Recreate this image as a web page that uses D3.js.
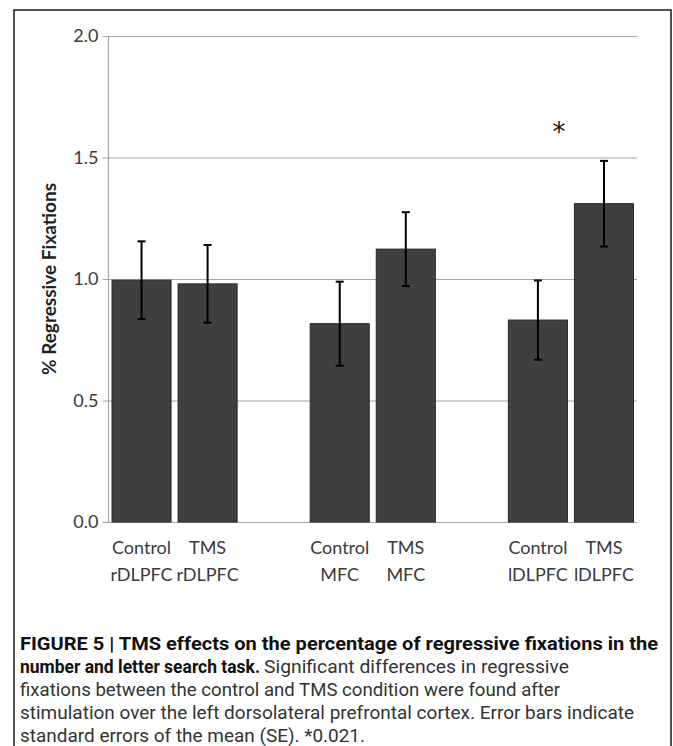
<!DOCTYPE html>
<html>
<head>
<meta charset="utf-8">
<script src="https://cdn.jsdelivr.net/npm/d3@7"></script>
<style>
  html, body { margin: 0; padding: 0; background: #fff; }
  svg { display: block; }
</style>
</head>
<body>
<script>
// Slots along the x axis; empty slots separate the three stimulation sites.
const categories = ["c_r", "t_r", "gap1", "c_m", "t_m", "gap2", "c_l", "t_l"];
const labelLine1 = ["Control", "TMS", "", "Control", "TMS", "", "Control", "TMS"];
const labelLine2 = ["rDLPFC", "rDLPFC", "", "MFC", "MFC", "", "lDLPFC", "lDLPFC"];
const barKeys = ["c_r", "t_r", "c_m", "t_m", "c_l", "t_l"];
const means = [0.995, 0.98, 0.816, 1.123, 0.831, 1.31];
const stdErrors = [0.16, 0.16, 0.173, 0.152, 0.163, 0.176];
const yTicks = [0, 0.5, 1.0, 1.5, 2.0];
const significant = ["c_l", "t_l"];

const W = 673, H = 746;
const svg = d3.select("body").append("svg").attr("width", W).attr("height", H);

// Figure frame
svg.append("rect")
  .attr("x", 14).attr("y", 10).attr("width", 657).attr("height", 760)
  .attr("fill", "none").attr("stroke", "#1a1a1a").attr("stroke-width", 1.5);

const plot = { left: 108.5, right: 637, top: 36, bottom: 522 };

const x = d3.scaleBand()
  .domain(categories)
  .range([plot.left, plot.right])
  .paddingInner(0.106)
  .paddingOuter(0.053);

const y = d3.scaleLinear().domain([0, 2]).range([plot.bottom, plot.top]);

// Horizontal gridlines with short ticks left of the axis
const yAxis = d3.axisLeft(y)
  .tickValues(yTicks)
  .tickFormat(d3.format(".1f"))
  .tickSize(-(plot.right - plot.left))
  .tickPadding(10);

const gy = svg.append("g")
  .attr("transform", `translate(${plot.left},0)`)
  .call(yAxis);
gy.select(".domain").remove();
gy.selectAll(".tick line")
  .attr("x1", -6)
  .attr("stroke", "#a6a6a6").attr("stroke-width", 1.2);
gy.selectAll(".tick text")
  .attr("font-family", "Lato, 'Open Sans', sans-serif")
  .attr("font-size", 18)
  .attr("fill", "#3a3a3a");

// Vertical axis line
svg.append("line")
  .attr("x1", plot.left).attr("x2", plot.left)
  .attr("y1", plot.top).attr("y2", plot.bottom)
  .attr("stroke", "#a6a6a6").attr("stroke-width", 1.2);

// Bars
const bars = barKeys.map((k, i) => ({ key: k, mean: means[i], se: stdErrors[i] }));

svg.append("g").selectAll("rect")
  .data(bars)
  .join("rect")
  .attr("x", d => x(d.key))
  .attr("width", x.bandwidth())
  .attr("y", d => y(d.mean))
  .attr("height", d => y(0) - y(d.mean))
  .attr("fill", "#404040")
  .attr("stroke", "#262626")
  .attr("stroke-width", 1);

// Error bars (mean ± SE)
const eb = svg.append("g").attr("stroke", "#000").attr("stroke-width", 2);
const cx = k => x(k) + x.bandwidth() / 2;
eb.selectAll("line.stem")
  .data(bars)
  .join("line")
  .attr("class", "stem")
  .attr("x1", d => cx(d.key)).attr("x2", d => cx(d.key))
  .attr("y1", d => y(d.mean + d.se)).attr("y2", d => y(d.mean - d.se));
eb.selectAll("line.capTop")
  .data(bars)
  .join("line")
  .attr("class", "capTop")
  .attr("x1", d => cx(d.key) - 4).attr("x2", d => cx(d.key) + 4)
  .attr("y1", d => y(d.mean + d.se)).attr("y2", d => y(d.mean + d.se));
eb.selectAll("line.capBot")
  .data(bars)
  .join("line")
  .attr("class", "capBot")
  .attr("x1", d => cx(d.key) - 4).attr("x2", d => cx(d.key) + 4)
  .attr("y1", d => y(d.mean - d.se)).attr("y2", d => y(d.mean - d.se));

// Significance marker over the lDLPFC pair
const sigTop = d3.max(bars.filter(d => significant.includes(d.key)), d => d.mean + d.se);
svg.append("text")
  .attr("x", (cx(significant[0]) + cx(significant[1])) / 2 - 12)
  .attr("y", y(sigTop) - 20)
  .attr("text-anchor", "middle")
  .attr("font-family", "'DejaVu Sans', sans-serif")
  .attr("font-size", 26)
  .attr("fill", "#111")
  .text("*");

// Two-line category labels
const xl = svg.append("g")
  .attr("font-family", "Lato, 'Open Sans', sans-serif")
  .attr("font-size", 18)
  .attr("fill", "#3a3a3a")
  .attr("text-anchor", "middle");
categories.forEach((c, i) => {
  if (!labelLine1[i]) return;
  xl.append("text").attr("x", cx(c)).attr("y", 554).text(labelLine1[i]);
  xl.append("text").attr("x", cx(c)).attr("y", 581).text(labelLine2[i]);
});

// Y axis title
svg.append("text")
  .attr("transform", `translate(56,${(plot.top + plot.bottom) / 2}) rotate(-90)`)
  .attr("text-anchor", "middle")
  .attr("font-family", "Lato, 'Open Sans', sans-serif")
  .attr("font-weight", "bold")
  .attr("font-size", 19)
  .attr("fill", "#222")
  .text("% Regressive Fixations");

// Caption
const cap = svg.append("g")
  .attr("font-family", "Roboto, 'Liberation Sans', sans-serif")
  .attr("font-size", 19);
const capLines = [
  [{ t: "FIGURE 5 | TMS effects on the percentage of regressive fixations in the", b: true, x: 20, w: 638 }],
  [{ t: "number and letter search task.", b: true, x: 20, w: 240 },
   { t: "Significant differences in regressive", b: false, x: 264, w: 305 }],
  [{ t: "fixations between the control and TMS condition were found after", b: false, x: 20, w: 540 }],
  [{ t: "stimulation over the left dorsolateral prefrontal cortex. Error bars indicate", b: false, x: 20, w: 614 }],
  [{ t: "standard errors of the mean (SE). *0.021.", b: false, x: 20, w: 345 }]
];
const capY = [650, 673, 696, 719, 742];
capLines.forEach((segs, li) => {
  segs.forEach(s => {
    cap.append("text")
      .attr("x", s.x).attr("y", capY[li])
      .attr("font-weight", s.b ? "bold" : "normal")
      .attr("fill", s.b ? "#111" : "#333")
      .attr("textLength", s.w)
      .attr("lengthAdjust", "spacingAndGlyphs")
      .text(s.t);
  });
});
</script>
</body>
</html>
